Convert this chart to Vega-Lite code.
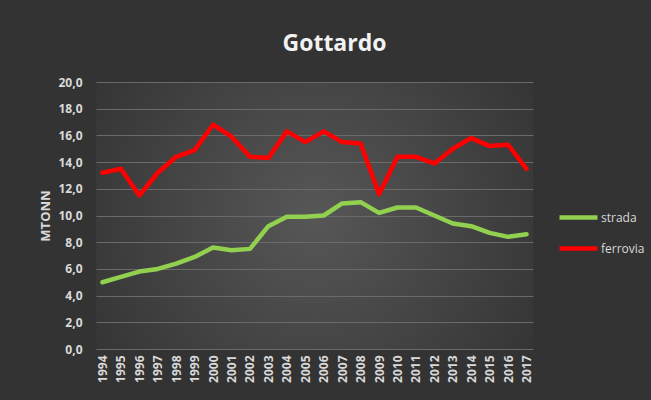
{
  "$schema": "https://vega.github.io/schema/vega-lite/v6.json",
  "width": 437,
  "height": 267,
  "autosize": {"type": "none"},
  "padding": {"left": 96, "top": 82, "right": 118, "bottom": 51},
  "background": "#333333",
  "config": {
    "locale": {"number": {"decimal": ",", "thousands": ".", "grouping": [3], "currency": ["", " €"]}},
    "view": {"stroke": null, "fill": {"gradient": "radial", "x1": 0.5, "y1": 0.5, "x2": 0.5, "y2": 0.5, "r1": 0, "r2": 0.62, "stops": [{"offset": 0, "color": "#575757"}, {"offset": 1, "color": "#333333"}]}},
    "font": "Open Sans"
  },
  "title": {
    "text": "Gottardo",
    "color": "#f2f2f2",
    "fontSize": 23,
    "fontWeight": "bold",
    "font": "Open Sans",
    "anchor": "middle",
    "dx": 20,
    "offset": 20
  },
  "data": {
    "values": [
      {"year": "1994", "serie": "strada", "v": 5.0},
      {"year": "1995", "serie": "strada", "v": 5.4},
      {"year": "1996", "serie": "strada", "v": 5.8},
      {"year": "1997", "serie": "strada", "v": 6.0},
      {"year": "1998", "serie": "strada", "v": 6.4},
      {"year": "1999", "serie": "strada", "v": 6.9},
      {"year": "2000", "serie": "strada", "v": 7.6},
      {"year": "2001", "serie": "strada", "v": 7.4},
      {"year": "2002", "serie": "strada", "v": 7.5},
      {"year": "2003", "serie": "strada", "v": 9.2},
      {"year": "2004", "serie": "strada", "v": 9.9},
      {"year": "2005", "serie": "strada", "v": 9.9},
      {"year": "2006", "serie": "strada", "v": 10.0},
      {"year": "2007", "serie": "strada", "v": 10.9},
      {"year": "2008", "serie": "strada", "v": 11.0},
      {"year": "2009", "serie": "strada", "v": 10.2},
      {"year": "2010", "serie": "strada", "v": 10.6},
      {"year": "2011", "serie": "strada", "v": 10.6},
      {"year": "2012", "serie": "strada", "v": 10.0},
      {"year": "2013", "serie": "strada", "v": 9.4},
      {"year": "2014", "serie": "strada", "v": 9.2},
      {"year": "2015", "serie": "strada", "v": 8.7},
      {"year": "2016", "serie": "strada", "v": 8.4},
      {"year": "2017", "serie": "strada", "v": 8.6},
      {"year": "1994", "serie": "ferrovia", "v": 13.2},
      {"year": "1995", "serie": "ferrovia", "v": 13.5},
      {"year": "1996", "serie": "ferrovia", "v": 11.5},
      {"year": "1997", "serie": "ferrovia", "v": 13.2},
      {"year": "1998", "serie": "ferrovia", "v": 14.4},
      {"year": "1999", "serie": "ferrovia", "v": 14.9},
      {"year": "2000", "serie": "ferrovia", "v": 16.8},
      {"year": "2001", "serie": "ferrovia", "v": 15.9},
      {"year": "2002", "serie": "ferrovia", "v": 14.4},
      {"year": "2003", "serie": "ferrovia", "v": 14.3},
      {"year": "2004", "serie": "ferrovia", "v": 16.3},
      {"year": "2005", "serie": "ferrovia", "v": 15.5},
      {"year": "2006", "serie": "ferrovia", "v": 16.3},
      {"year": "2007", "serie": "ferrovia", "v": 15.5},
      {"year": "2008", "serie": "ferrovia", "v": 15.4},
      {"year": "2009", "serie": "ferrovia", "v": 11.6},
      {"year": "2010", "serie": "ferrovia", "v": 14.4},
      {"year": "2011", "serie": "ferrovia", "v": 14.4},
      {"year": "2012", "serie": "ferrovia", "v": 13.9},
      {"year": "2013", "serie": "ferrovia", "v": 15.0},
      {"year": "2014", "serie": "ferrovia", "v": 15.8},
      {"year": "2015", "serie": "ferrovia", "v": 15.2},
      {"year": "2016", "serie": "ferrovia", "v": 15.3},
      {"year": "2017", "serie": "ferrovia", "v": 13.5}
    ]
  },
  "mark": {"type": "line", "strokeWidth": 4.5, "strokeJoin": "round", "strokeCap": "round"},
  "encoding": {
    "x": {
      "field": "year",
      "type": "ordinal",
      "scale": {"type": "point", "padding": 0.35},
      "axis": {
        "title": null,
        "labelAngle": 270,
        "labelColor": "#d9d9d9",
        "labelFontSize": 12,
        "labelFontWeight": "bold",
        "labelPadding": 6,
        "domain": false,
        "ticks": false,
        "grid": false
      }
    },
    "y": {
      "field": "v",
      "type": "quantitative",
      "scale": {"domain": [0, 20], "nice": false},
      "axis": {
        "title": "MTONN",
        "titleColor": "#d9d9d9",
        "titleFontSize": 13,
        "titleFontWeight": "bold",
        "titlePadding": 5,
        "values": [0, 2, 4, 6, 8, 10, 12, 14, 16, 18, 20],
        "format": ".1f",
        "labelColor": "#d9d9d9",
        "labelFontSize": 12,
        "labelFontWeight": "bold",
        "labelPadding": 14,
        "domain": false,
        "ticks": false,
        "grid": true,
        "gridColor": "#6a6a6a",
        "gridWidth": 1.2
      }
    },
    "color": {
      "field": "serie",
      "type": "nominal",
      "scale": {"domain": ["strada", "ferrovia"], "range": ["#92d050", "#ff0000"]},
      "legend": {
        "title": null,
        "orient": "none",
        "legendX": 461,
        "legendY": 114,
        "symbolType": "stroke",
        "symbolSize": 1444,
        "symbolStrokeWidth": 4.5,
        "labelColor": "#d9d9d9",
        "labelFontSize": 12,
        "labelOffset": 1,
        "rowPadding": -7
      }
    }
  }
}
